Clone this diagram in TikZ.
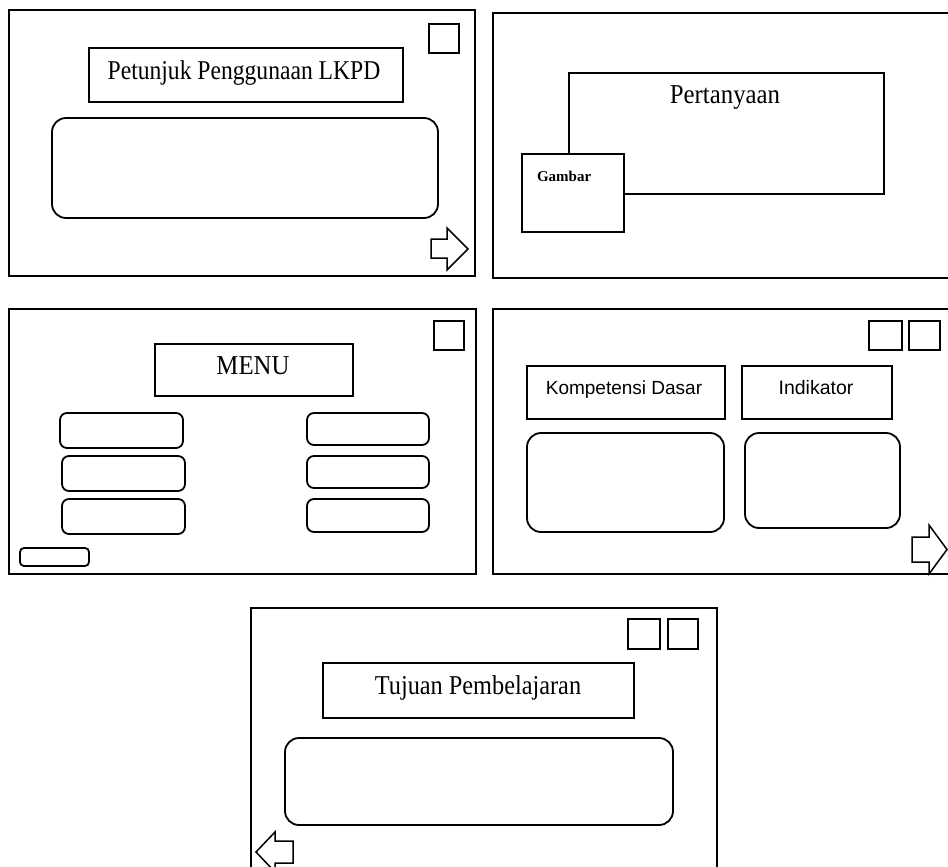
\documentclass[tikz,border=0pt]{standalone}
\usepackage{fontspec}
\setmainfont{Liberation Serif}
\newfontfamily\sansf{Liberation Sans}
\usetikzlibrary{fit}
\tikzset{
  panel/.style={draw, line width=2.1pt, inner sep=0pt, outer sep=0pt, fill=white},
  frame/.style={draw, line width=1.8pt, inner sep=0pt, outer sep=0pt, fill=white},
  rbox/.style={draw, line width=1.8pt, inner sep=0pt, outer sep=0pt, rounded corners=14pt},
  btn/.style={draw, line width=1.8pt, inner sep=0pt, outer sep=0pt, rounded corners=7pt},
  navarrow/.style={draw, line width=1.5pt, fill=white, line join=miter},
  lbl/.style={inner sep=0pt, outer sep=0pt, anchor=base}
}
\newcommand{\fs}[1]{\fontsize{#1}{#1}\selectfont}
\begin{document}
\begin{tikzpicture}[x=1pt,y=-1pt]
\clip (0,0) rectangle (948,867);
\fill[white] (0,0) rectangle (948,867);
% Panel 1
\node[panel, fit={(9,10)(475,276)}] (p1) {};
\node[frame, fit={(429,24)(459,53)}] (p1sq) {};
\node[frame, fit={(89,48)(403,102)}] (p1title) {};
\node[lbl] (p1text) at (244,79) {\fs{23.6}\scalebox{1}[1.15]{Petunjuk Penggunaan LKPD}};
\node[rbox, fit={(52,118)(438,218)}] (p1body) {};
\draw[navarrow] (431,239) -- (447,239) -- (447,228) -- (468,249) -- (447,270) -- (447,258) -- (431,258) -- cycle;
% Panel 2
\node[panel, fit={(493,13)(962,278)}] (p2) {};
\node[frame, fit={(569,73)(884,194)}] (p2q) {};
\node[lbl] (p2text) at (725,103) {\fs{24.8}\scalebox{1}[1.1]{Pertanyaan}};
\node[frame, fit={(522,154)(624,232)}] (p2g) {};
\node[lbl, anchor=base west] (p2gtext) at (537,181) {\fs{15}\bfseries Gambar};
% Panel 3
\node[panel, fit={(9,309)(476,574)}] (p3) {};
\node[frame, fit={(434,321)(464,350)}] (p3sq) {};
\node[frame, fit={(155,344)(353,396)}] (p3menu) {};
\node[lbl] (p3text) at (253,374) {\fs{24.8}\scalebox{1}[1.1]{MENU}};
\node[btn, fit={(60,413)(183,448)}] (l1) {};
\node[btn, fit={(62,456)(185,491)}] (l2) {};
\node[btn, fit={(62,499)(185,534)}] (l3) {};
\node[btn, fit={(307,413)(429,445)}] (r1) {};
\node[btn, fit={(307,456)(429,488)}] (r2) {};
\node[btn, fit={(307,499)(429,532)}] (r3) {};
\node[btn, rounded corners=4pt, fit={(20,548)(89,566)}] (p3small) {};
% Panel 4
\node[panel, fit={(493,309)(962,574)}] (p4) {};
\node[frame, fit={(869,321)(902,350)}] (p4sqa) {};
\node[frame, fit={(909,321)(940,350)}] (p4sqb) {};
\node[frame, fit={(527,366)(725,419)}] (p4kd) {};
\node[lbl] (p4kdtext) at (624,394) {\sansf\fs{19}Kompetensi Dasar};
\node[frame, fit={(742,366)(892,419)}] (p4ind) {};
\node[lbl] (p4indtext) at (816,394) {\sansf\fs{19.5}Indikator};
\node[rbox, fit={(527,433)(724,532)}] (p4kdbody) {};
\node[rbox, fit={(745,433)(900,528)}] (p4indbody) {};
\draw[navarrow] (912,537) -- (929,537) -- (929,525) -- (947,549.5) -- (929,574) -- (929,562) -- (912,562) -- cycle;
% Panel 5
\node[panel, fit={(251,608)(717,885)}] (p5) {};
\node[frame, fit={(628,619)(660,649)}] (p5sqa) {};
\node[frame, fit={(668,619)(698,649)}] (p5sqb) {};
\node[frame, fit={(323,663)(634,718)}] (p5title) {};
\node[lbl] (p5text) at (478,694) {\fs{24.3}\scalebox{1}[1.12]{Tujuan Pembelajaran}};
\node[rbox, fit={(285,738)(673,825)}] (p5body) {};
\draw[navarrow] (293,841) -- (275,841) -- (275,832) -- (256,852) -- (275,872) -- (275,863) -- (293,863) -- cycle;
\end{tikzpicture}
\end{document}
